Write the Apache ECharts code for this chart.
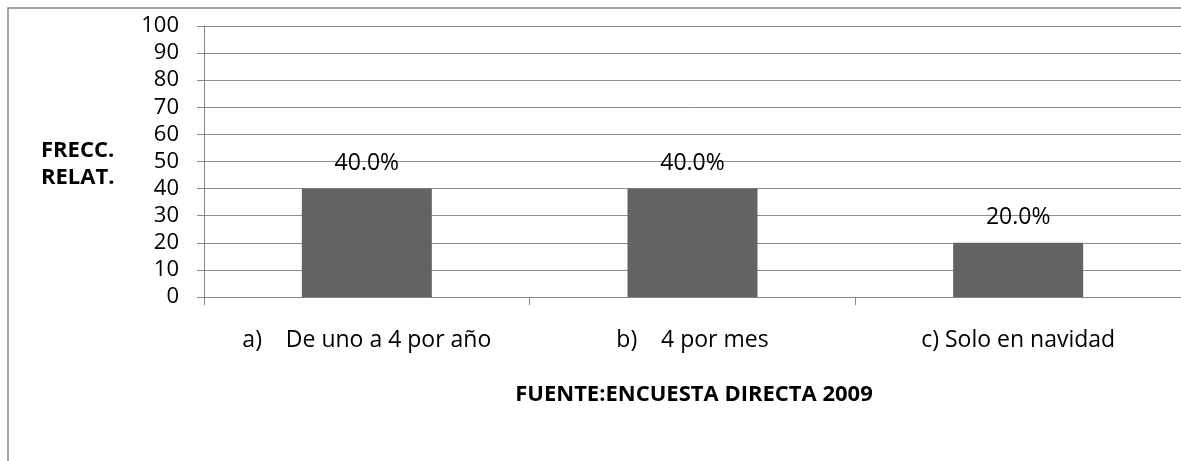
<!DOCTYPE html>
<html><head><meta charset="utf-8">
<script src="https://cdn.jsdelivr.net/npm/echarts@6/dist/echarts.min.js"></script>
<style>html,body{margin:0;padding:0;background:#fff;}#c{width:1181px;height:461px;}</style>
</head><body><div id="c"></div>
<script>
const categories = ['a)    De uno a 4 por año', 'b)    4 por mes', 'c) Solo en navidad'];
const values = [40, 40, 20];
const valueLabels = ['40.0%', '40.0%', '20.0%'];
const yTicks = [0, 10, 20, 30, 40, 50, 60, 70, 80, 90, 100];
const yTitle = 'FRECC.\nRELAT.';
const xTitle = 'FUENTE:ENCUESTA DIRECTA 2009';

const FONT = '"Open Sans", "Noto Sans", sans-serif';
const chart = echarts.init(document.getElementById('c'));
chart.setOption({
  animation: false,
  backgroundColor: '#fff',
  grid: { left: 204, top: 26, bottom: 164, right: -6, containLabel: false },
  xAxis: {
    type: 'category', data: categories,
    axisLine: { lineStyle: { color: '#868686', width: 1 } },
    axisTick: { show: true, alignWithLabel: false, length: 8, lineStyle: { color: '#868686' } },
    axisLabel: { color: '#000', fontFamily: FONT, fontSize: 23, margin: 32 },
    splitLine: { show: false }
  },
  yAxis: {
    type: 'value', min: yTicks[0], max: yTicks[yTicks.length - 1], interval: 10,
    axisLine: { show: true, lineStyle: { color: '#868686', width: 1 } },
    axisTick: { show: true, length: 7, lineStyle: { color: '#868686' } },
    axisLabel: { color: '#000', fontFamily: FONT, fontSize: 22, margin: 25 },
    splitLine: { show: true, lineStyle: { color: '#8c8c8c', width: 1 } }
  },
  series: [{
    type: 'bar', data: values, barWidth: 130,
    itemStyle: { color: '#636363' },
    label: {
      show: true, position: 'top', distance: 14, color: '#000',
      fontFamily: FONT, fontSize: 23,
      formatter: p => valueLabels[p.dataIndex]
    }
  }],
  graphic: [
    { type: 'rect', shape: { x: 8, y: 8, width: 1300, height: 600 }, silent: true, z: -1,
      style: { fill: 'none', stroke: '#888', lineWidth: 1.5 } },
    { type: 'text', left: 41, top: 137, silent: true,
      style: { text: yTitle, font: 'bold 22px ' + FONT, fill: '#000', lineHeight: 27 } },
    { type: 'text', x: 694, y: 395, silent: true,
      style: { text: xTitle, font: 'bold 22px ' + FONT, fill: '#000', align: 'center', verticalAlign: 'middle' } }
  ]
});
</script></body></html>
